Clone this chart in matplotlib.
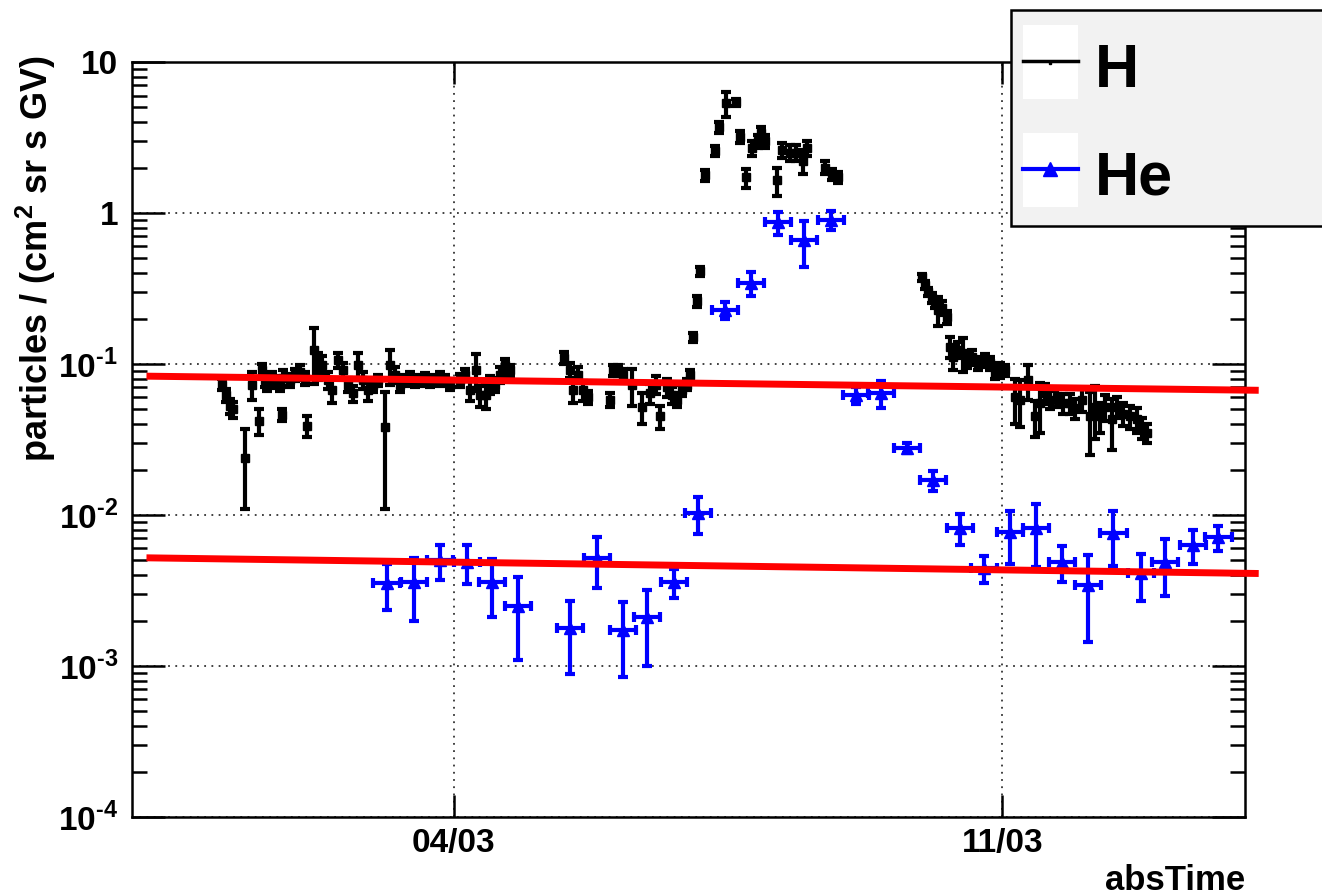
import numpy as np
import matplotlib
matplotlib.use("Agg")
import matplotlib.pyplot as plt
import matplotlib.dates as mdates
from matplotlib.patches import Rectangle
from matplotlib.lines import Line2D
from matplotlib.ticker import LogLocator, FixedLocator, FuncFormatter

plt.rcParams["font.family"] = ["Liberation Sans", "DejaVu Sans"]
plt.rcParams["mathtext.fontset"] = "custom"
plt.rcParams["mathtext.rm"] = "Liberation Sans:bold"
plt.rcParams["mathtext.bf"] = "Liberation Sans:bold"
plt.rcParams["axes.unicode_minus"] = False

# time is given as day of March 2012 (4.0 = 04/03 00:00)
h_day = [1.04, 1.09, 1.14, 1.18, 1.33, 1.42, 1.51, 1.55, 1.59, 1.62,
         1.68, 1.71, 1.78, 1.80, 1.82, 1.91, 1.97, 2.03, 2.10, 2.12,
         2.21, 2.26, 2.31, 2.39, 2.45, 2.52, 2.58, 2.65, 2.71, 2.77,
         2.84, 2.90, 2.97, 3.03, 3.12, 3.18, 3.25, 3.31, 3.37, 3.44,
         3.50, 3.57, 3.63, 3.69, 3.76, 3.82, 3.89, 3.95,
         4.08, 4.14, 4.20, 4.28, 4.33, 4.41, 4.46, 4.52, 4.59, 4.65, 4.72,
         5.40, 5.48, 5.52, 5.58, 5.65, 5.71,
         5.99, 6.03, 6.09, 6.16, 6.27, 6.40, 6.50, 6.58, 6.63, 6.72,
         6.78, 6.85, 6.91, 6.98, 7.01,
         7.05, 7.10, 7.14,
         7.21, 7.33, 7.38, 7.47, 7.60, 7.65, 7.73, 7.81, 7.88, 7.92,
         7.97, 8.12, 8.19, 8.29, 8.37, 8.46, 8.51, 8.74, 8.83, 8.90,
         9.98, 10.01, 10.05, 10.10, 10.14, 10.18, 10.23, 10.30, 10.33, 10.37,
         10.44, 10.50, 10.55, 10.61, 10.69, 10.78, 10.84, 10.91, 10.97, 11.04,
         11.16, 11.23, 11.33, 11.42, 11.48, 11.55, 11.61, 11.70, 11.78, 11.87,
         11.93, 12.02, 12.12, 12.19, 12.25, 12.31, 12.40, 12.47, 12.54, 12.63,
         12.72, 12.79, 12.85]
h_val = [0.073, 0.062, 0.053, 0.050, 0.024, 0.073, 0.042, 0.091, 0.078, 0.073,
         0.081, 0.076, 0.073, 0.046, 0.081, 0.078, 0.085, 0.088, 0.081, 0.039,
         0.124, 0.098, 0.098, 0.078, 0.067, 0.106, 0.091, 0.073, 0.064, 0.098,
         0.078, 0.067, 0.073, 0.078, 0.038, 0.098, 0.085, 0.073, 0.078, 0.081,
         0.076, 0.078, 0.081, 0.076, 0.078, 0.082, 0.078, 0.073,
         0.078, 0.085, 0.067, 0.091, 0.062, 0.062, 0.073, 0.073, 0.085, 0.098, 0.091,
         0.110, 0.091, 0.067, 0.085, 0.067, 0.060,
         0.058, 0.091, 0.091, 0.085, 0.073, 0.052, 0.064, 0.073, 0.045, 0.070,
         0.062, 0.058, 0.067, 0.073, 0.085,
         0.15, 0.26, 0.41,
         1.79, 2.57, 3.7, 5.35, 5.4, 3.2, 1.72, 2.7, 3.0, 3.4,
         3.0, 1.65, 2.6, 2.5, 2.5, 2.2, 2.7, 2.0, 1.8, 1.72,
         0.377, 0.333, 0.30, 0.274, 0.254, 0.228, 0.235, 0.205, 0.130, 0.111,
         0.124, 0.118, 0.106, 0.111, 0.101, 0.106, 0.101, 0.087, 0.091, 0.091,
         0.060, 0.058, 0.078, 0.045, 0.055, 0.064, 0.058, 0.060, 0.055, 0.055,
         0.051, 0.058, 0.045, 0.052, 0.045, 0.052, 0.043, 0.052, 0.047, 0.045,
         0.043, 0.038, 0.035]
h_err = [0.006, 0.006, 0.006, 0.006, 0.013, 0.015, 0.008, 0.009, 0.008, 0.007,
         0.007, 0.007, 0.007, 0.004, 0.010, 0.008, 0.008, 0.010, 0.008, 0.006,
         0.050, 0.020, 0.015, 0.010, 0.012, 0.012, 0.010, 0.008, 0.008, 0.020,
         0.010, 0.010, 0.008, 0.007, 0.027, 0.025, 0.010, 0.008, 0.007, 0.008,
         0.006, 0.006, 0.006, 0.006, 0.006, 0.006, 0.006, 0.006,
         0.008, 0.008, 0.010, 0.025, 0.010, 0.012, 0.010, 0.008, 0.010, 0.010, 0.008,
         0.010, 0.010, 0.012, 0.010, 0.010, 0.006,
         0.006, 0.008, 0.008, 0.008, 0.020, 0.012, 0.010, 0.010, 0.008, 0.010,
         0.008, 0.006, 0.006, 0.006, 0.006,
         0.01, 0.02, 0.03,
         0.15, 0.2, 0.3, 1.0, 0.3, 0.3, 0.25, 0.3, 0.3, 0.3,
         0.3, 0.35, 0.3, 0.3, 0.3, 0.4, 0.3, 0.2, 0.15, 0.15,
         0.02, 0.02, 0.02, 0.02, 0.02, 0.05, 0.025, 0.02, 0.02, 0.02,
         0.015, 0.03, 0.012, 0.012, 0.01, 0.01, 0.01, 0.008, 0.01, 0.008,
         0.02, 0.02, 0.02, 0.012, 0.02, 0.01, 0.008, 0.008, 0.008, 0.008,
         0.008, 0.01, 0.02, 0.02, 0.01, 0.01, 0.016, 0.008, 0.008, 0.008,
         0.008, 0.006, 0.005]

he_day = [3.14, 3.49, 3.82, 4.17, 4.49, 4.82, 5.48, 5.83, 6.16, 6.46,
          6.81, 7.12, 7.46, 7.79, 8.14, 8.47, 8.81, 9.13, 9.45, 9.78,
          10.12, 10.46, 10.77, 11.10, 11.43, 11.76, 12.10, 12.42, 12.77, 13.08,
          13.44, 13.76]
he_val = [0.00355, 0.0036, 0.0050, 0.0049, 0.0036, 0.0025, 0.00179, 0.0052, 0.00174, 0.0021,
          0.0036, 0.0103, 0.228, 0.344, 0.87, 0.66, 0.90, 0.062, 0.064, 0.0278,
          0.017, 0.0082, 0.00446, 0.0077, 0.0082, 0.0049, 0.00344, 0.0076, 0.0041, 0.0049,
          0.0063, 0.0071]
he_err = [0.0012, 0.0016, 0.0013, 0.0014, 0.0015, 0.0014, 0.0009, 0.0019, 0.0009, 0.0011,
          0.0008, 0.0028, 0.03, 0.06, 0.15, 0.22, 0.13, 0.008, 0.013, 0.002,
          0.0025, 0.0019, 0.0009, 0.003, 0.0037, 0.0013, 0.002, 0.003, 0.0014, 0.002,
          0.0016, 0.0013]
he_halfbin = 0.167  # days

# straight reference lines
fit_day = [0.12, 14.23]
h_fit = [0.083, 0.067]
he_fit = [0.0052, 0.0041]

xlim_day = [-0.11, 14.10]
tick_day = [4, 11]

t0 = mdates.date2num(np.datetime64("2012-03-01T00:00")) - 1.0


def tnum(days):
    return t0 + np.asarray(days, dtype=float)


fig = plt.figure(figsize=(13.22, 8.96), dpi=100)
ax = fig.add_axes([0.0998, 0.0882, 0.8420, 0.8426])

ax.errorbar(tnum(h_day), h_val, yerr=h_err, fmt="s", color="black", ms=6,
            elinewidth=3, capsize=3.5, capthick=3, zorder=3)
ax.errorbar(tnum(he_day), he_val, yerr=he_err, xerr=he_halfbin, fmt="^",
            color="#0000ff", ms=9, elinewidth=3, capsize=3.5, capthick=3,
            zorder=3)

ax.plot(tnum(fit_day), h_fit, color="#ff0000", lw=5, clip_on=False, zorder=5)
ax.plot(tnum(fit_day), he_fit, color="#ff0000", lw=5, clip_on=False, zorder=5)

ax.set_yscale("log")
ax.set_ylim(1e-4, 10)
ax.set_xlim(tnum(xlim_day))

ax.yaxis.set_major_locator(LogLocator(base=10, numticks=10))
ax.yaxis.set_minor_locator(LogLocator(base=10, subs=np.arange(2, 10), numticks=20))


def yfmt(v, pos):
    e = int(round(np.log10(v)))
    if e == 1:
        return "10"
    if e == 0:
        return "1"
    return r"$10^{\text{-%d}}$" % (-e)


ax.yaxis.set_major_formatter(FuncFormatter(yfmt))
ax.xaxis.set_major_locator(FixedLocator(tnum(tick_day)))
ax.xaxis.set_major_formatter(mdates.DateFormatter("%d/%m"))

ax.tick_params(which="both", direction="in", top=True, right=True,
               labelsize=24, width=1.8, pad=10)
ax.tick_params(axis="y", which="major", length=24)
ax.tick_params(axis="y", which="minor", length=11)
ax.tick_params(axis="x", which="major", length=16, pad=8)
for lab in ax.get_xticklabels() + ax.get_yticklabels():
    lab.set_fontweight("bold")

ax.grid(True, which="major", linestyle=(0, (1, 3)), color="#333333", lw=1.3)
for sp in ax.spines.values():
    sp.set_linewidth(1.8)

ax.set_ylabel(r"particles / (cm$^{\mathbf{2}}$ sr s GV)", fontsize=26,
              fontweight="bold", loc="top")
ax.yaxis.set_label_coords(-0.066, 1.01)
ax.set_xlabel("absTime", fontsize=25, fontweight="bold", loc="right")
ax.xaxis.set_label_coords(1.0, -0.062)

# legend box drawn in figure coordinates, running off the right edge
fig.add_artist(Rectangle((0.7648, 0.7478), 0.30, 0.2411, transform=fig.transFigure,
                         facecolor="#f2f2f2", edgecolor="black", lw=1.8,
                         clip_on=False, zorder=10))
for y0 in (0.8895, 0.7690):
    fig.add_artist(Rectangle((0.7738, y0), 0.0416, 0.0826, transform=fig.transFigure,
                             facecolor="white", edgecolor="none", zorder=11))
fig.add_artist(Line2D([0.7738, 0.8154], [0.9319, 0.9319], transform=fig.transFigure,
                      color="black", lw=2.5, zorder=12))
fig.add_artist(Line2D([0.7946], [0.9300], transform=fig.transFigure, marker="s",
                      ms=2, color="black", zorder=12))
fig.add_artist(Line2D([0.7738, 0.8154], [0.8114, 0.8114], transform=fig.transFigure,
                      color="#0000ff", lw=3, zorder=12))
fig.add_artist(Line2D([0.7946], [0.8114], transform=fig.transFigure, marker="^",
                      ms=10, color="#0000ff", zorder=12))
fig.text(0.8283, 0.9029, "H", fontsize=44, fontweight="bold", va="baseline", zorder=12)
fig.text(0.8283, 0.7824, "He", fontsize=44, fontweight="bold", va="baseline", zorder=12)

fig.savefig("out.png", dpi=100)
